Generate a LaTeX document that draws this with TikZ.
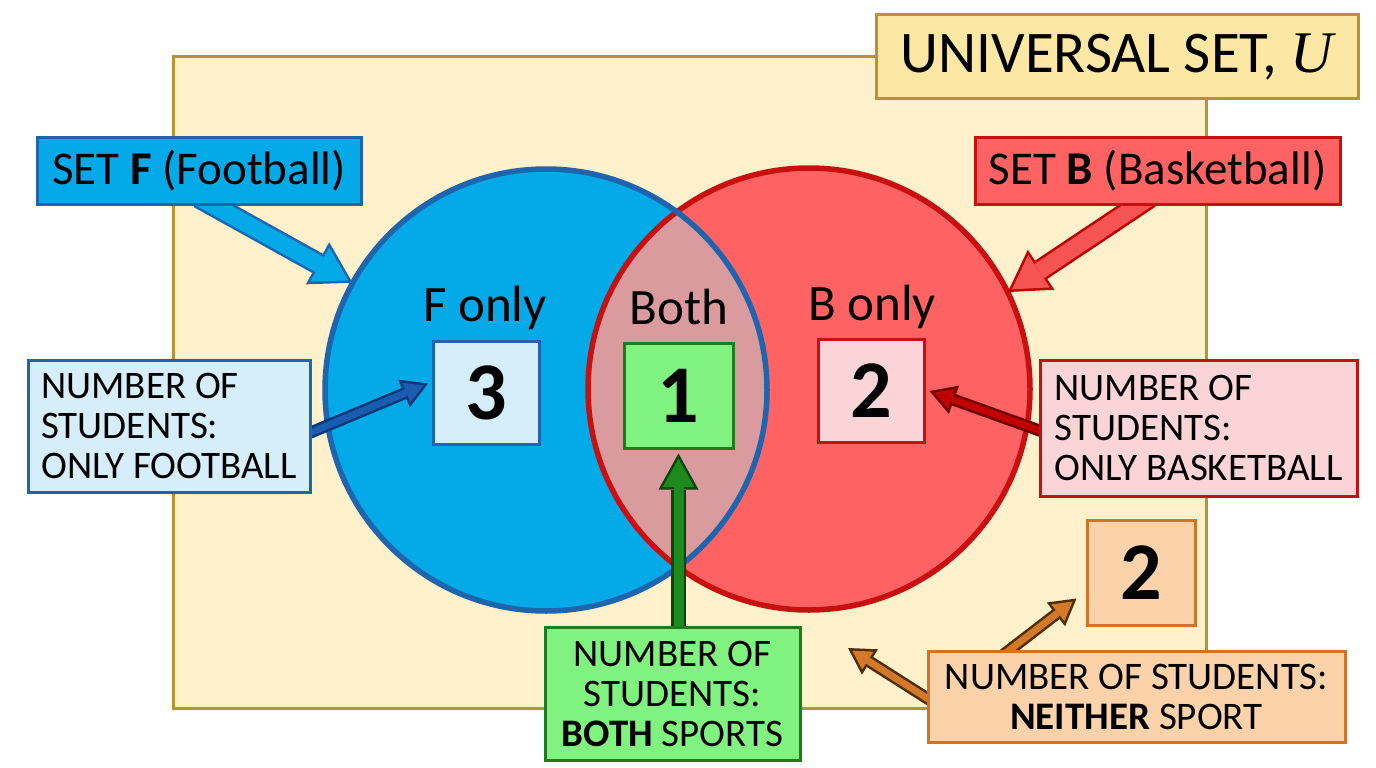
\documentclass[tikz,border=0pt]{standalone}
\usepackage{fontspec}
\setmainfont{Carlito}
\newfontfamily\ufont{Liberation Serif}
\usetikzlibrary{arrows.meta}

\definecolor{ufill}{RGB}{254,241,203}
\definecolor{uline}{RGB}{188,146,48}
\definecolor{utag}{RGB}{253,231,164}
\definecolor{ffill}{RGB}{4,170,232}
\definecolor{fline}{RGB}{30,100,175}
\definecolor{flight}{RGB}{213,238,250}
\definecolor{fdark}{RGB}{26,92,176}
\definecolor{fdeep}{RGB}{10,56,120}
\definecolor{bfill}{RGB}{255,98,98}
\definecolor{bline}{RGB}{200,16,16}
\definecolor{blight}{RGB}{250,212,215}
\definecolor{bdark}{RGB}{192,0,0}
\definecolor{bdeep}{RGB}{110,0,0}
\definecolor{lens}{RGB}{217,155,157}
\definecolor{gfill}{RGB}{128,242,127}
\definecolor{gline}{RGB}{30,123,30}
\definecolor{gdark}{RGB}{30,138,30}
\definecolor{gdeep}{RGB}{10,70,10}
\definecolor{ofill}{RGB}{252,210,170}
\definecolor{oline}{RGB}{208,116,40}
\definecolor{odark}{RGB}{210,122,42}
\definecolor{odeep}{RGB}{80,44,8}

\pgfdeclarelayer{back}
\pgfdeclarelayer{mid}
\pgfsetlayers{back,mid,main}

\tikzset{
  box/.style={draw, line width=3pt, inner sep=0pt, align=center},
  lbl/.style={box, font=\fontsize{39}{40}\selectfont},
  num/.style={box, minimum width=106pt, minimum height=103pt, font=\fontsize{82}{82}\selectfont\bfseries},
  region/.style={circle, minimum size=442pt, inner sep=0pt},
  tag/.style={font=\fontsize{51}{51}\selectfont},
  bigout/.style={line width=22pt, -{Triangle[length=40pt,width=48pt,line width=0pt]}},
  bigin/.style={line width=17pt, shorten >=4.9pt, -{Triangle[length=32.6pt,width=39pt,line width=0pt]}},
  midout/.style={line width=15pt, -{Triangle[length=36pt,width=40pt,line width=0pt]}},
  midin/.style={line width=10pt, shorten >=5.2pt, -{Triangle[length=28.3pt,width=31.5pt,line width=0pt]}},
  smallout/.style={line width=12pt, -{Triangle[length=26pt,width=30pt,line width=0pt]}},
  smallin/.style={line width=7pt, shorten >=5pt, -{Triangle[length=18.5pt,width=21.3pt,line width=0pt]}}
}

\begin{document}
\begin{tikzpicture}[x=1pt,y=-1pt]
\begin{pgfonlayer}{back}
\fill[white] (0,0) rectangle (1376,768);
\useasboundingbox (0,0) rectangle (1376,768);
% universal set and the two sets
\draw[uline, fill=ufill, line width=3pt] (173,57) rectangle (1206,708);
\node[region, fill=ffill] (circF) at (546,390) {};
\node[region, fill=bfill] (circB) at (809,389) {};
\begin{scope}
\clip (circF.center) circle (221pt);
\fill[lens] (circB.center) circle (221pt);
\end{scope}
\draw[bline, line width=5.5pt] (circB.center) circle (221pt);
\draw[fline, line width=5.5pt] (circF.center) circle (221pt);
\end{pgfonlayer}

% labels
\node[box, fill=utag, draw=uline, minimum width=482pt, minimum height=83pt, font=\fontsize{59}{59}\selectfont] (univ) at (1117,56.5) {UNIVERSAL SET, {\ufont\itshape U}};
\node[box, fill=ffill, draw=fline, minimum width=324pt, minimum height=67pt, font=\fontsize{47}{47}\selectfont] (setF) at (199,170.5) {SET \textbf{F} (Football)};
\node[box, fill=bfill, draw=bline, minimum width=365pt, minimum height=67pt, font=\fontsize{47}{47}\selectfont] (setB) at (1157.5,170.5) {SET \textbf{B} (Basketball)};

\node[tag] (tagF) at (485,308) {F only};
\node[tag] (tagBoth) at (679,307) {Both};
\node[tag] (tagB) at (872,307) {B only};

\node[num, fill=flight, draw=fline] (numF) at (486.5,392.5) {3};
\node[num, fill=gfill, draw=gline, minimum width=109pt, minimum height=105pt] (numBoth) at (678.5,395.5) {1};
\node[num, fill=blight, draw=bline] (numB) at (871,391) {2};
\node[num, fill=ofill, draw=oline, minimum width=108pt, minimum height=105pt] (numN) at (1141,572.5) {2};

\node[lbl, fill=flight, draw=fline, align=left, minimum width=282pt, minimum height=132pt] (onlyF) at (169,426) {NUMBER OF\\STUDENTS:\\ONLY FOOTBALL};
\node[lbl, fill=blight, draw=bline, align=left, minimum width=317pt, minimum height=136pt] (onlyB) at (1198.5,428) {NUMBER OF\\STUDENTS:\\ONLY BASKETBALL};
\node[lbl, fill=gfill, draw=gline, minimum width=255pt, minimum height=133pt] (both) at (672.5,693.5) {NUMBER OF\\STUDENTS:\\\textbf{BOTH} SPORTS};
\node[lbl, fill=ofill, draw=oline, minimum width=417pt, minimum height=91pt] (neither) at (1136.5,696.5) {NUMBER OF STUDENTS:\\\textbf{NEITHER} SPORT};

% arrows
\begin{pgfonlayer}{mid}
\draw[bigout, fline] ([shift={(0,-8)}]setF.south) -- (circF.151);
\draw[bigin, ffill] ([shift={(0,-8)}]setF.south) -- (circF.151);
\draw[bigout, bdark] ([shift={(-8,-8)}]setB.south) -- (circB.26);
\draw[bigin, bfill!85!bdark] ([shift={(-8,-8)}]setB.south) -- (circB.26);

\draw[smallout, fdeep] ([shift={(-14,12)}]onlyF.east) -- ([shift={(-4,-9)}]numF.west);
\draw[smallin, fdark] ([shift={(-14,12)}]onlyF.east) -- ([shift={(-4,-9)}]numF.west);
\draw[smallout, bdeep] ([shift={(19,9)}]onlyB.west) -- ([shift={(4,0)}]numB.east);
\draw[smallin, bdark] ([shift={(19,9)}]onlyB.west) -- ([shift={(4,0)}]numB.east);

\draw[midout, gdeep] ([shift={(0,8)}]numBoth.south |- both.north) -- ([shift={(0,4)}]numBoth.south);
\draw[midin, gdark] ([shift={(0,8)}]numBoth.south |- both.north) -- ([shift={(0,4)}]numBoth.south);

\draw[smallout, odeep] ([shift={(72,9)}]neither.north west) -- ([shift={(-9,-28)}]numN.south west);
\draw[smallin, odark] ([shift={(72,9)}]neither.north west) -- ([shift={(-9,-28)}]numN.south west);
\draw[smallout, odeep] ([shift={(12,9)}]neither.west) -- (848,648);
\draw[smallin, odark] ([shift={(12,9)}]neither.west) -- (848,648);
\end{pgfonlayer}
\end{tikzpicture}
\end{document}
